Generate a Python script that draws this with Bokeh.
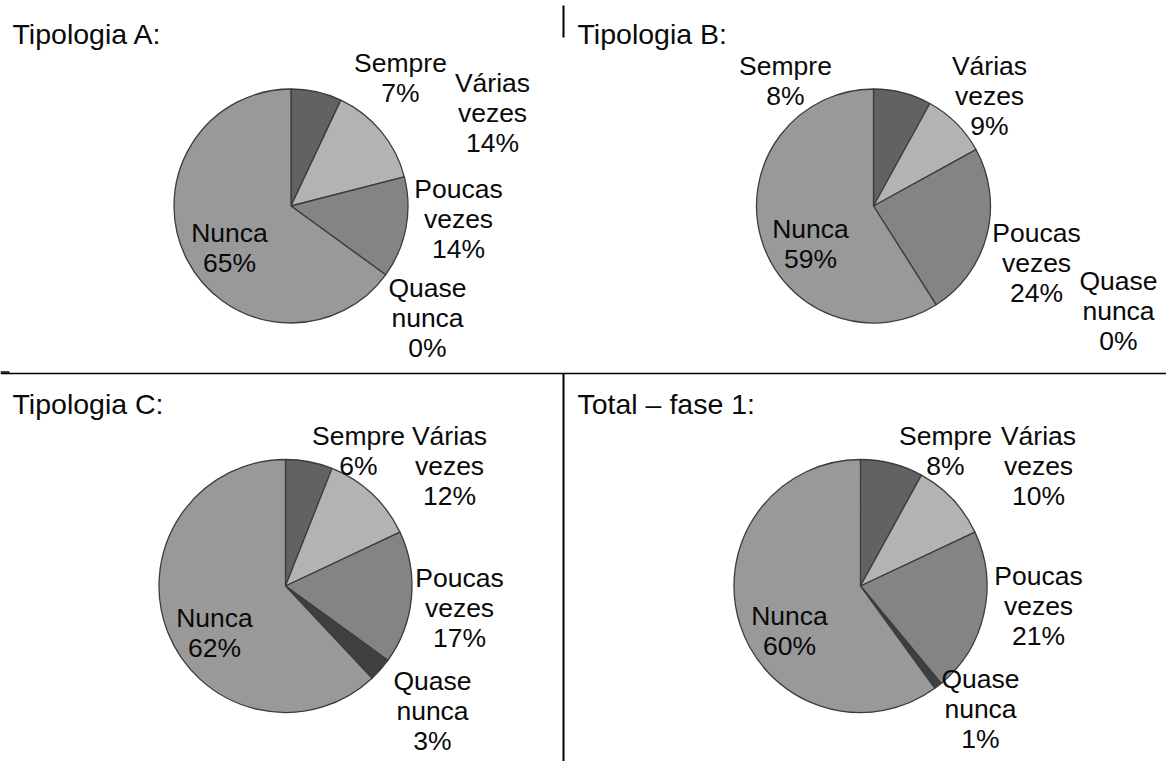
import math

from bokeh.plotting import figure
from bokeh.models import Range1d
from bokeh.core.properties import value
from bokeh.embed import file_html
from bokeh.resources import INLINE

# ---- data -------------------------------------------------------------
categories = ["Sempre", "Várias vezes", "Poucas vezes", "Quase nunca", "Nunca"]
tipologia_a = [7, 14, 14, 0, 65]
tipologia_b = [8, 9, 24, 0, 59]
tipologia_c = [6, 12, 17, 3, 62]
total_fase1 = [8, 10, 21, 1, 60]
panel_titles = ["Tipologia A:", "Tipologia B:", "Tipologia C:", "Total – fase 1:"]
panel_values = [tipologia_a, tipologia_b, tipologia_c, total_fase1]

# ---- styling / layout (pixel positions measured from the top-left) ----
W, H = 1166, 761
slice_colors = ["#626262", "#b3b3b3", "#848484", "#3f3f3f", "#999999"]
FONT = value("Liberation Sans")
LABEL_SIZE = "26.5px"
TITLE_SIZE = "28.5px"
LINE_STEP = 30

panel_layout = [
    dict(cx=290.5, cy=205.5, r=117, title_xy=(12, 33),
         labels=[(400, 62), (492, 82), (458, 188), (427, 287), (229, 232)]),
    dict(cx=873, cy=205.5, r=117, title_xy=(577, 33),
         labels=[(785, 65), (989, 65), (1036, 232), (1118, 280), (810, 228)]),
    dict(cx=285, cy=585.5, r=126.5, title_xy=(12, 403),
         labels=[(358, 435), (449, 435), (459, 577), (432, 680), (214, 617)]),
    dict(cx=860, cy=585.5, r=126.5, title_xy=(577, 403),
         labels=[(945, 435), (1038, 435), (1038, 575), (980, 678), (789, 615)]),
]


def fy(y_top):
    """Convert a top-down pixel row into the plot's upward y coordinate."""
    return H - y_top


p = figure(width=W, height=H, x_range=Range1d(0, W), y_range=Range1d(0, H),
           toolbar_location=None, output_backend="svg", min_border=0,
           x_axis_type=None, y_axis_type=None)
p.grid.visible = False
p.outline_line_color = None
p.background_fill_color = "white"
p.border_fill_color = "white"

for title, vals, lay in zip(panel_titles, panel_values, panel_layout):
    total = float(sum(vals))
    cum = 0.0
    xs, ys, starts, ends, fills = [], [], [], [], []
    for v, col in zip(vals, slice_colors):
        a0 = math.pi / 2 - 2 * math.pi * cum / total
        cum += v
        a1 = math.pi / 2 - 2 * math.pi * cum / total
        if v <= 0:
            continue
        xs.append(lay["cx"])
        ys.append(fy(lay["cy"]))
        starts.append(a0)
        ends.append(a1)
        fills.append(col)
    p.wedge(x=xs, y=ys, radius=lay["r"], start_angle=starts, end_angle=ends,
            direction="clock", fill_color=fills, line_color="#3c3c3c",
            line_width=1.3)

    # slice labels: category words on separate lines, then the percentage
    lx, ly, lt = [], [], []
    for cat, v, (ax, ay) in zip(categories, vals, lay["labels"]):
        lines = cat.split() + [f"{v}%"]
        for k, line in enumerate(lines):
            lx.append(ax)
            ly.append(fy(ay + k * LINE_STEP))
            lt.append(line)
    p.text(x=lx, y=ly, text=lt, text_font=FONT, text_font_size=LABEL_SIZE,
           text_align="center", text_baseline="middle", text_color="#0a0a0a")

    tx, ty = lay["title_xy"]
    p.text(x=[tx], y=[fy(ty)], text=[title], text_font=FONT,
           text_font_size=TITLE_SIZE, text_align="left",
           text_baseline="alphabetic", text_color="#0a0a0a")

# separator rules between the four panels
p.segment(x0=[0], y0=[fy(373)], x1=[W], y1=[fy(373)], line_color="black",
          line_width=1.5)
p.segment(x0=[0], y0=[fy(371.5)], x1=[9], y1=[fy(371.5)], line_color="black",
          line_width=1.5)
p.segment(x0=[563, 563], y0=[fy(5), fy(373)], x1=[563, 563], y1=[fy(37), fy(H)],
          line_color="black", line_width=2)

open("out.html", "w").write(file_html(p, INLINE))
